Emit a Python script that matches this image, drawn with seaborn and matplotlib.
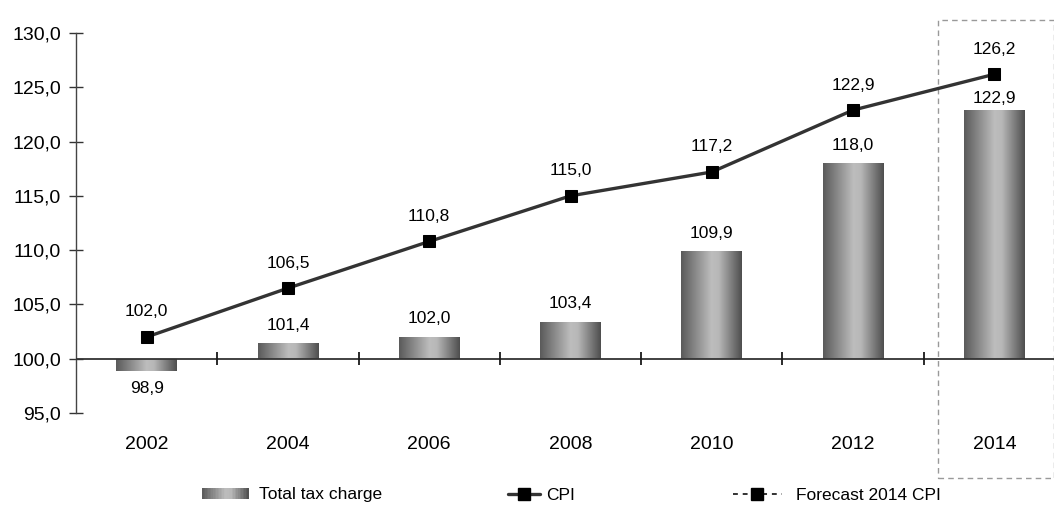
import numpy as np
import pandas as pd
import matplotlib
matplotlib.use("Agg")
import matplotlib.pyplot as plt
import seaborn as sns
from matplotlib.colors import LinearSegmentedColormap
from matplotlib.patches import Rectangle
from matplotlib.lines import Line2D
from matplotlib.legend_handler import HandlerBase
import matplotlib.transforms as mtransforms

# ---------------- data ----------------
years = ["2002", "2004", "2006", "2008", "2010", "2012", "2014"]
tax_charge = [98.9, 101.4, 102.0, 103.4, 109.9, 118.0, 122.9]
cpi = [102.0, 106.5, 110.8, 115.0, 117.2, 122.9, 126.2]
y_ticks = [95, 100, 105, 110, 115, 120, 125, 130]
legend_labels = ["Total tax charge", "CPI", "Forecast 2014 CPI"]
baseline = 100.0

# ---------------- style ----------------
sns.set_theme(style="white")
plt.rcParams["font.family"] = ["Liberation Sans", "DejaVu Sans"]

def fmt(v):
    return f"{v:.1f}".replace(".", ",")

grad_cmap = LinearSegmentedColormap.from_list(
    "bar", [(0.0, "#5a5a5a"), (0.5, "#bdbdbd"), (0.62, "#b8b8b8"), (1.0, "#4e4e4e")])

W, H = 1054, 508
fig = plt.figure(figsize=(W / 100, H / 100), dpi=100)
ax = fig.add_axes([76 / W, 1 - 413 / H, 989 / W, 380 / H])

n = len(years)
pos = np.arange(n)

# bars (from baseline 100)
df = pd.DataFrame({"year": years, "delta": np.array(tax_charge) - baseline})
sns.barplot(data=df, x="year", y="delta", bottom=baseline, width=0.43,
            color="#888888", errorbar=None, ax=ax, zorder=2)

gradient = np.linspace(0, 1, 256).reshape(1, -1)
for p in list(ax.patches):
    x0, y0, w, h = p.get_x(), p.get_y(), p.get_width(), p.get_height()
    ax.imshow(gradient, extent=[x0, x0 + w, y0, y0 + h], aspect="auto",
              cmap=grad_cmap, zorder=2, interpolation="bilinear")
    p.set_facecolor("none")
    p.set_edgecolor("none")

# baseline axis line and category boundary ticks
ax.axhline(baseline, color="#333333", lw=1.3, zorder=3)
ax.vlines(pos + 0.5, baseline - 0.6, baseline + 0.6, color="#1a1a1a", lw=1.3, zorder=3)

# CPI line
sns.lineplot(x=pos, y=cpi, color="#333333", lw=2.4, marker="s", markersize=8,
             markerfacecolor="black", markeredgecolor="black", legend=False,
             ax=ax, zorder=4)

# value labels
for i, v in enumerate(cpi):
    ax.annotate(fmt(v), (i, v), xytext=(0, 18), textcoords="offset points",
                ha="center", va="center", fontsize=12.5, color="black")
for i, v in enumerate(tax_charge):
    if v >= baseline:
        off = 13 if cpi[i] - v > 4 else 8
    else:
        off = -13
    ax.annotate(fmt(v), (i, v), xytext=(0, off), textcoords="offset points",
                ha="center", va="center", fontsize=12.5, color="black")

# axes
ax.set_xlim(-0.5, n - 0.5)
ax.set_ylim(y_ticks[0], y_ticks[-1])
ax.set_yticks(y_ticks)
ax.set_yticklabels([fmt(t) for t in y_ticks])
ax.set_xticks(pos)
ax.set_xticklabels(years)
ax.set_xlabel("")
ax.set_ylabel("")
ax.tick_params(axis="y", direction="inout", length=10, width=1, color="#333333",
               pad=5.8, labelsize=14, labelcolor="black", left=True)
ax.tick_params(axis="x", length=0, pad=16.5, labelsize=14, labelcolor="black")
for s in ["top", "right", "bottom"]:
    ax.spines[s].set_visible(False)
ax.spines["left"].set_color("#444444")
ax.spines["left"].set_linewidth(1)
ax.grid(False)

# forecast dashed box
trans = mtransforms.blended_transform_factory(ax.transData, ax.transAxes)
box = Rectangle((5.6, -0.171), 0.82, 1.205, transform=trans, fill=False,
                ec="#999999", lw=1, ls=(0, (4, 3)), clip_on=False, zorder=1)
ax.add_patch(box)

# ---------------- legend ----------------
class GradientHandler(HandlerBase):
    def create_artists(self, legend, orig_handle, xdescent, ydescent,
                       width, height, fontsize, trans):
        k = 30
        arts = []
        for j in range(k):
            r = Rectangle((-xdescent + j * width / k, -ydescent), width / k * 1.05, height,
                          fc=grad_cmap((j + 0.5) / k), ec="none", transform=trans)
            arts.append(r)
        return arts

bar_handle = Rectangle((0, 0), 1, 1)
cpi_handle = Line2D([], [], color="#333333", lw=2.4, marker="s", markersize=8,
                    markerfacecolor="black", markeredgecolor="black")
fc_handle = Line2D([], [], color="#333333", lw=1.4, ls=(0, (2.5, 2.5)), marker="s",
                   markersize=8, markerfacecolor="black", markeredgecolor="black")

ly = 1 - 495 / H
common = dict(loc="center left", frameon=False, borderpad=0, borderaxespad=0,
              fontsize=12.5, labelcolor="black")
fig.legend([bar_handle], [legend_labels[0]], bbox_to_anchor=(202 / W, ly),
           handler_map={Rectangle: GradientHandler()}, handlelength=2.7,
           handletextpad=0.6, handleheight=0.6, **common)
fig.legend([cpi_handle], [legend_labels[1]], bbox_to_anchor=(508 / W, ly),
           handlelength=1.85, handletextpad=0.35, **common)
fig.legend([fc_handle], [legend_labels[2]], bbox_to_anchor=(733 / W, ly),
           handlelength=2.8, handletextpad=0.8, **common)

fig.savefig("out.png", dpi=100)
